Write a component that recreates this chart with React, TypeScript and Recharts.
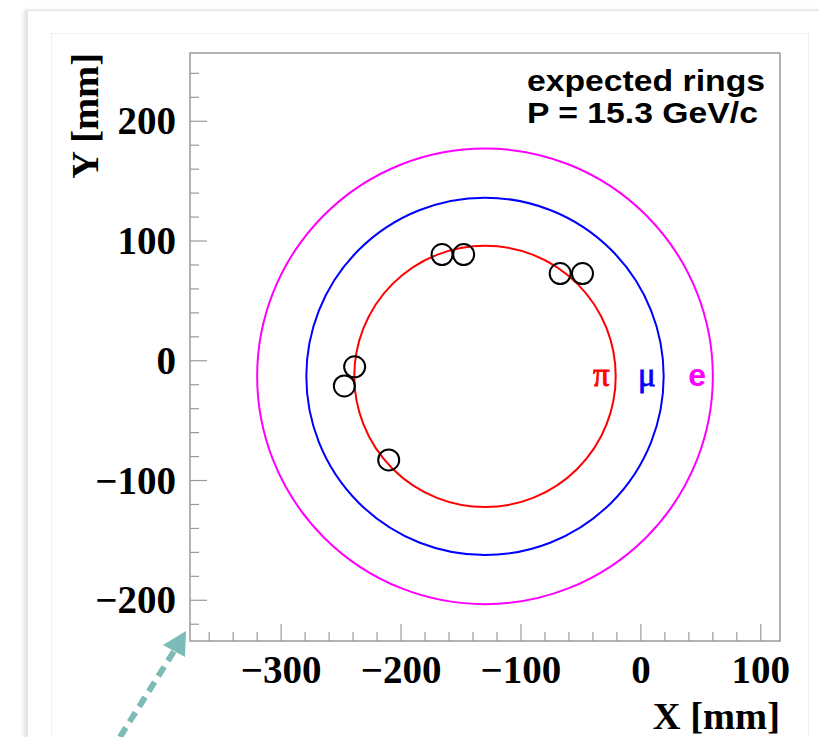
import { ScatterChart, Scatter, XAxis, YAxis, ReferenceArea } from 'recharts'

// ---------------------------------------------------------------------------
// Data (mm)
// ---------------------------------------------------------------------------

const X_MIN = -376
const X_MAX = 116
const Y_MIN = -234
const Y_MAX = 257

// every 20 mm a minor tick, every 100 mm a labelled major tick
const X_TICKS = [-360, -340, -320, -300, -280, -260, -240, -220, -200, -180, -160, -140, -120, -100, -80, -60, -40, -20, 0, 20, 40, 60, 80, 100]
const Y_TICKS = [-220, -200, -180, -160, -140, -120, -100, -80, -60, -40, -20, 0, 20, 40, 60, 80, 100, 120, 140, 160, 180, 200, 220, 240]

// photon hits on the detector plane
const HIT_X = [-165.8, -147.8, -67.3, -48.7, -238.7, -247.3, -210.3]
const HIT_Y = [88.7, 88.7, 72.8, 72.8, -5, -21, -82.8]

// expected Cherenkov rings for each mass hypothesis
const RING_NAMES = ['e', 'μ', 'π']
const RING_X = [-130, -130, -130]
const RING_Y = [-13, -13, -13]
const RING_R = [190, 149, 109]
const RING_LABEL_X = [47, 5, -33]

// ---------------------------------------------------------------------------
// Look
// ---------------------------------------------------------------------------

const W = 819
const H = 737
const MARGIN = { top: 53, right: 39, bottom: 0, left: 0 }
const Y_AXIS_W = 190
const X_AXIS_H = 96
const PLOT_W = W - MARGIN.left - MARGIN.right - Y_AXIS_W
// linear x scale factor, used for ring radii given in mm
const PX_PER_MM = PLOT_W / (X_MAX - X_MIN)

const FRAME = '#9a9a9a'
const SERIF = '"Liberation Serif", "Times New Roman", serif'
const SANS = '"Liberation Sans", Arial, Helvetica, sans-serif'

const RING_COLORS: Record<string, string> = {
  e: '#ff00ff',
  'μ': '#0000ff',
  'π': '#ff0000',
}

const fmt = (v: number) => (v < 0 ? '\u2212' + Math.abs(v) : String(v))

const hits = HIT_X.map((x, i) => ({ x, y: HIT_Y[i] }))
const rings = RING_NAMES.map((name, i) => ({ name, x: RING_X[i], y: RING_Y[i], r: RING_R[i] }))
const ringLabels = RING_NAMES.map((name, i) => ({ name, x: RING_LABEL_X[i], y: RING_Y[i] }))

function XTick(props: any) {
  const { x, y, payload } = props
  const major = payload.value % 100 === 0
  return (
    <g>
      <line x1={x} x2={x} y1={y} y2={y - (major ? 17 : 9)} stroke={FRAME} strokeWidth={1.2} />
      {major && (
        <text x={x} y={y + 42} textAnchor="middle" fontFamily={SERIF} fontWeight="bold" fontSize={39} fill="#000">
          {fmt(payload.value)}
        </text>
      )}
    </g>
  )
}

function YTick(props: any) {
  const { x, y, payload } = props
  const major = payload.value % 100 === 0
  return (
    <g>
      <line x1={x} x2={x + (major ? 17 : 9)} y1={y} y2={y} stroke={FRAME} strokeWidth={1.2} />
      {major && (
        <text x={x - 14} y={y + 13} textAnchor="end" fontFamily={SERIF} fontWeight="bold" fontSize={39} fill="#000">
          {fmt(payload.value)}
        </text>
      )}
    </g>
  )
}

function RingShape(props: any) {
  const { cx, cy, payload } = props
  return (
    <circle cx={cx} cy={cy} r={payload.r * PX_PER_MM} fill="none" stroke={RING_COLORS[payload.name]} strokeWidth={2} />
  )
}

function HitShape(props: any) {
  const { cx, cy } = props
  return <circle cx={cx} cy={cy} r={10.5} fill="none" stroke="#000" strokeWidth={2} />
}

function RingLabelShape(props: any) {
  const { cx, cy, payload } = props
  const isE = payload.name === 'e'
  const color = RING_COLORS[payload.name]
  return (
    <text
      x={cx}
      y={cy + 10}
      textAnchor="middle"
      fontFamily={isE ? SANS : SERIF}
      fontWeight={isE ? 'bold' : 'normal'}
      fontSize={isE ? 32 : 33}
      fill={color}
      stroke={isE ? 'none' : color}
      strokeWidth={isE ? 0 : 0.8}
    >
      {payload.name}
    </text>
  )
}

export default function App() {
  return (
    <div style={{ position: 'absolute', left: 0, top: 0, width: W, height: H, background: '#fff', overflow: 'hidden' }}>
      {/* slide panel borders */}
      <div style={{ position: 'absolute', left: 27, top: 10, width: 820, height: 800, border: '1px solid #e4e4e4', boxShadow: '-3px 0 4px rgba(0,0,0,0.12)' }} />
      <div style={{ position: 'absolute', left: 51, top: 33, width: 756, height: 800, border: '1px solid #f0f0f0' }} />

      <div style={{ position: 'absolute', left: 0, top: 0 }}>
        <ScatterChart width={W} height={H} margin={MARGIN}>
          <XAxis
            type="number"
            dataKey="x"
            domain={[X_MIN, X_MAX]}
            ticks={X_TICKS}
            interval={0}
            allowDataOverflow
            axisLine={false}
            tickLine={false}
            tickSize={0}
            tickMargin={0}
            height={X_AXIS_H}
            tick={<XTick />}
            label={{
              content: (p: any) => {
                const vb = p.viewBox
                return (
                  <text x={vb.x + vb.width} y={vb.y + 88} textAnchor="end" fontFamily={SERIF} fontWeight="bold" fontSize={38.5} fill="#000">
                    X [mm]
                  </text>
                )
              },
            }}
          />
          <YAxis
            type="number"
            dataKey="y"
            domain={[Y_MIN, Y_MAX]}
            ticks={Y_TICKS}
            interval={0}
            allowDataOverflow
            axisLine={false}
            tickLine={false}
            tickSize={0}
            tickMargin={0}
            width={Y_AXIS_W}
            tick={<YTick />}
            label={{
              content: (p: any) => {
                const vb = p.viewBox
                const lx = vb.x + 98
                const ly = vb.y
                return (
                  <text x={lx} y={ly} transform={`rotate(-90 ${lx} ${ly})`} textAnchor="end" fontFamily={SERIF} fontWeight="bold" fontSize={38.5} fill="#000">
                    Y [mm]
                  </text>
                )
              },
            }}
          />
          <ReferenceArea x1={X_MIN} x2={X_MAX} y1={Y_MIN} y2={Y_MAX} fill="none" fillOpacity={0} stroke={FRAME} strokeWidth={1.5} />
          <Scatter data={rings} shape={<RingShape />} isAnimationActive={false} />
          <Scatter data={hits} shape={<HitShape />} isAnimationActive={false} />
          <Scatter data={ringLabels} shape={<RingLabelShape />} isAnimationActive={false} />
        </ScatterChart>
      </div>

      {/* caption and pointer arrow */}
      <svg width={W} height={H} style={{ position: 'absolute', left: 0, top: 0, pointerEvents: 'none' }}>
        <text x={527} y={91} fontFamily={SANS} fontWeight="bold" fontSize={29} textLength={238} lengthAdjust="spacingAndGlyphs" fill="#000">expected rings</text>
        <text x={527} y={123} fontFamily={SANS} fontWeight="bold" fontSize={29} textLength={231} lengthAdjust="spacingAndGlyphs" fill="#000">P = 15.3 GeV/c</text>
        <line x1={120} y1={737} x2={176} y2={648} stroke="#7dbcb6" strokeWidth={6} strokeDasharray="11 7" />
        <polygon points="186,631 163,645 185,657" fill="#7dbcb6" />
      </svg>
    </div>
  )
}
